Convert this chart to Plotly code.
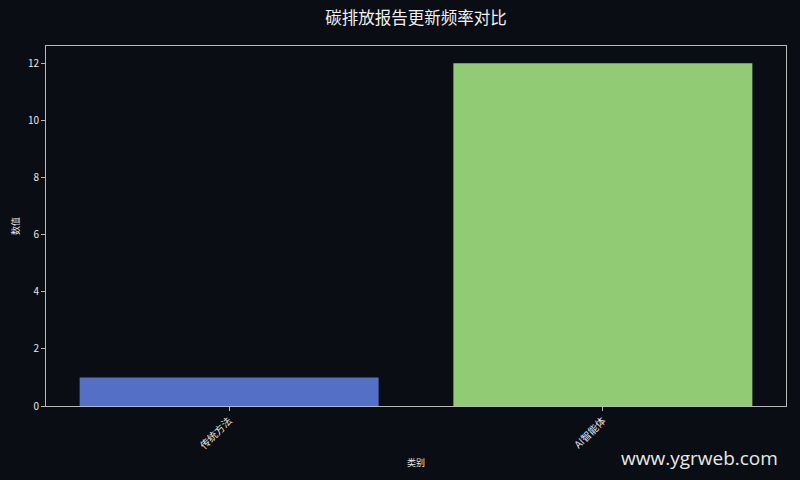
import plotly.graph_objects as go

categories = ["传统方法", "AI智能体"]
values = [1, 12]
bar_colors = ["#5470c6", "#91cc75"]

title_text = "碳排放报告更新频率对比"
x_title = "类别"
y_title = "数值"
watermark = "www.ygrweb.com"

bg = "#0b0d14"
axis_color = "#b8b8b8"
text_color = "#e6e6e6"
font_family = "Noto Sans CJK SC, DejaVu Sans, sans-serif"

fig = go.Figure()
fig.add_bar(
    x=list(range(len(categories))),
    y=values,
    width=0.8,
    marker=dict(color=bar_colors, line=dict(width=0)),
    showlegend=False,
)

fig.update_layout(
    width=800,
    height=480,
    paper_bgcolor=bg,
    plot_bgcolor=bg,
    margin=dict(l=46, r=14, t=46, b=74),
    font=dict(family=font_family, color=text_color, size=10),
    title=dict(
        text=title_text,
        x=(46 + 786) / 2 / 800,
        xanchor="center",
        y=1 - 18 / 480,
        yanchor="middle",
        font=dict(size=16.5, color="#f0f0f0"),
    ),
)

fig.update_xaxes(
    range=[-0.49, 1.49],
    tickmode="array",
    tickvals=list(range(len(categories))),
    ticktext=categories,
    tickangle=-45,
    ticks="outside",
    ticklen=4,
    tickcolor=axis_color,
    showline=True,
    linecolor=axis_color,
    linewidth=1,
    mirror=True,
    showgrid=False,
    zeroline=False,
    tickfont=dict(size=10, color=text_color),
    title=dict(text=x_title, font=dict(size=9, color=text_color), standoff=8),
)
fig.update_yaxes(
    range=[0, 12.6],
    tickmode="array",
    tickvals=[0, 2, 4, 6, 8, 10, 12],
    ticks="outside",
    ticklen=4,
    tickcolor=axis_color,
    showline=True,
    linecolor=axis_color,
    linewidth=1,
    mirror=True,
    showgrid=False,
    zeroline=False,
    tickfont=dict(size=10, color=text_color),
    title=dict(text=y_title, font=dict(size=9, color=text_color), standoff=6),
)

# watermark bottom right
fig.add_annotation(
    text=watermark,
    xref="paper",
    yref="paper",
    x=0.992,
    y=-0.145,
    xanchor="right",
    yanchor="middle",
    showarrow=False,
    font=dict(size=19, color="#e8e8e8", family="Open Sans, Noto Sans, sans-serif"),
)

# drop the default page margin so the figure sits at the window corner
fig.write_html(
    "out.html",
    config={"displayModeBar": False},
    post_script="document.body.style.margin='0';document.body.style.background='#0b0d14';",
)
